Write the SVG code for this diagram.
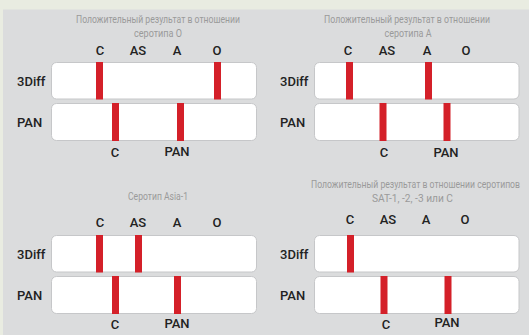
<svg xmlns="http://www.w3.org/2000/svg" width="529" height="335" viewBox="0 0 529 335">
<style>
.strip{fill:#fff;stroke:#c6c7c9;stroke-width:1}
.bar{fill:#d42029}
.lbl{font-family:Roboto,"Liberation Sans",sans-serif;font-weight:500;font-size:13px;fill:#222;text-anchor:middle}
.side{font-family:Roboto,"Liberation Sans",sans-serif;font-weight:500;font-size:13px;fill:#222;text-anchor:start}
.ttl{font-family:Roboto,"Liberation Sans",sans-serif;font-size:10.5px;fill:#9a9a9a;text-anchor:middle}
</style>
<rect x="0" y="0" width="529" height="335" fill="#e9ece1"/>
<rect x="3" y="9.5" width="526" height="325.5" fill="#dbdcdd"/>

<g id="panel-o">
<text class="ttl" x="158" y="23" textLength="164" lengthAdjust="spacingAndGlyphs">Положительный результат в отношении</text>
<text class="ttl" x="158" y="37" textLength="48" lengthAdjust="spacingAndGlyphs">серотипа O</text>
<text class="lbl" x="100" y="55">C</text>
<text class="lbl" x="138" y="55">AS</text>
<text class="lbl" x="177" y="55">A</text>
<text class="lbl" x="217" y="55">O</text>
<text class="side" x="17" y="85.5">3Diff</text>
<text class="side" x="17" y="127">PAN</text>
<rect class="strip" x="51.5" y="62.5" width="205" height="36.5" rx="5"/>
<rect class="strip" x="51.5" y="103.5" width="205" height="37" rx="5"/>
<rect class="bar" x="96" y="62" width="7" height="37.5"/>
<rect class="bar" x="214" y="62" width="7" height="37.5"/>
<rect class="bar" x="112" y="103" width="7" height="38"/>
<rect class="bar" x="177" y="103" width="7" height="38"/>
<text class="lbl" x="115" y="157">C</text>
<text class="lbl" x="177" y="156">PAN</text>
</g>

<g id="panel-a">
<text class="ttl" x="407" y="23" textLength="166" lengthAdjust="spacingAndGlyphs">Положительный результат в отношении</text>
<text class="ttl" x="408" y="37" textLength="47" lengthAdjust="spacingAndGlyphs">серотипа A</text>
<text class="lbl" x="348" y="55">C</text>
<text class="lbl" x="387" y="55">AS</text>
<text class="lbl" x="427" y="55">A</text>
<text class="lbl" x="466" y="55">O</text>
<text class="side" x="280" y="85.5">3Diff</text>
<text class="side" x="280" y="127">PAN</text>
<rect class="strip" x="314.5" y="62.5" width="204.5" height="36.5" rx="5"/>
<rect class="strip" x="314.5" y="103.5" width="204.5" height="37" rx="5"/>
<rect class="bar" x="346" y="62" width="7" height="37.5"/>
<rect class="bar" x="425" y="62" width="7" height="37.5"/>
<rect class="bar" x="379.5" y="103" width="7" height="38"/>
<rect class="bar" x="443.5" y="103" width="7" height="38"/>
<text class="lbl" x="384" y="157">C</text>
<text class="lbl" x="446" y="157">PAN</text>
</g>

<g id="panel-asia1">
<text class="ttl" x="158" y="200" textLength="60" lengthAdjust="spacingAndGlyphs">Серотип Asia-1</text>
<text class="lbl" x="100" y="227">C</text>
<text class="lbl" x="138" y="227">AS</text>
<text class="lbl" x="177" y="227">A</text>
<text class="lbl" x="217" y="227">O</text>
<text class="side" x="17" y="258.5">3Diff</text>
<text class="side" x="17" y="299.5">PAN</text>
<rect class="strip" x="51.5" y="235.5" width="205" height="36.5" rx="5"/>
<rect class="strip" x="51.5" y="276.5" width="205" height="37" rx="5"/>
<rect class="bar" x="96" y="235" width="7" height="37.5"/>
<rect class="bar" x="135" y="235" width="7" height="37.5"/>
<rect class="bar" x="112" y="276" width="7" height="38"/>
<rect class="bar" x="174" y="276" width="7" height="38"/>
<text class="lbl" x="115" y="329">C</text>
<text class="lbl" x="177" y="328">PAN</text>
</g>

<g id="panel-sat">
<text class="ttl" x="415.5" y="188" textLength="209" lengthAdjust="spacingAndGlyphs">Положительный результат в отношении серотипов</text>
<text class="ttl" x="412.5" y="202" textLength="81" lengthAdjust="spacingAndGlyphs">SAT-1, -2, -3 или C</text>
<text class="lbl" x="350" y="224">C</text>
<text class="lbl" x="388" y="224">AS</text>
<text class="lbl" x="426" y="224">A</text>
<text class="lbl" x="465" y="224">O</text>
<text class="side" x="280" y="258.5">3Diff</text>
<text class="side" x="280" y="299.5">PAN</text>
<rect class="strip" x="314.5" y="235.5" width="204.5" height="36.5" rx="5"/>
<rect class="strip" x="314.5" y="276.5" width="204.5" height="37" rx="5"/>
<rect class="bar" x="347" y="235" width="7" height="37.5"/>
<rect class="bar" x="380.5" y="276" width="7" height="38"/>
<rect class="bar" x="444.5" y="276" width="7" height="38"/>
<text class="lbl" x="386" y="329">C</text>
<text class="lbl" x="447" y="327">PAN</text>
</g>
<g id="connectors"/>
</svg>
